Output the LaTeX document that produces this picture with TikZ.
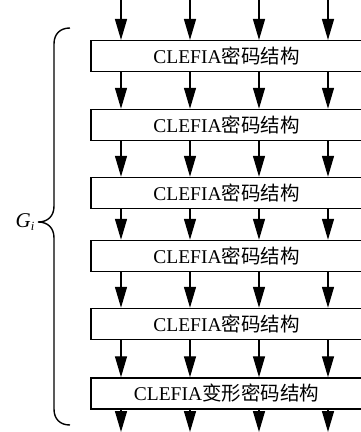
\documentclass[tikz,border=0pt]{standalone}
\usepackage{fontspec}
\setmainfont{Liberation Serif}
\newfontfamily\cjk{Noto Sans CJK SC}
\usetikzlibrary{arrows.meta}
\begin{document}
\begin{tikzpicture}[x=1pt,y=-1pt,
  blockbox/.style={draw,line width=1.5pt,minimum width=271pt,minimum height=31pt,inner sep=0pt,
    font=\fontsize{19.5pt}{23pt}\selectfont},
  flow/.style={line width=1.4pt,-{Triangle[length=21pt,width=12pt]}},
  bracestyle/.style={line width=1.4pt}]
\useasboundingbox (0,0) rectangle (361,432);
\node[blockbox] (b1) at (226.5,56.2) {CLEFIA{\cjk 密码结构}};
\node[blockbox] (b2) at (226.5,125) {CLEFIA{\cjk 密码结构}};
\node[blockbox] (b3) at (226.5,193) {CLEFIA{\cjk 密码结构}};
\node[blockbox] (b4) at (226.5,256) {CLEFIA{\cjk 密码结构}};
\node[blockbox] (b5) at (226.5,324) {CLEFIA{\cjk 密码结构}};
\node[blockbox] (b6) at (226.5,393.5) {CLEFIA{\cjk 变形密码结构}};
\foreach \i/\x in {1/121,2/190,3/259,4/328}{
  \coordinate (t\i) at (\x,0);
  \coordinate (e\i) at (\x,432);
  \draw[flow] (t\i) -- (t\i |- b1.north);
  \draw[flow] (b1.south -| t\i) -- (b2.north -| t\i);
  \draw[flow] (b2.south -| t\i) -- (b3.north -| t\i);
  \draw[flow] (b3.south -| t\i) -- (b4.north -| t\i);
  \draw[flow] (b4.south -| t\i) -- (b5.north -| t\i);
  \draw[flow] (b5.south -| t\i) -- (b6.north -| t\i);
  \draw[flow] (b6.south -| t\i) -- (e\i);
}
\coordinate (brtop) at (70,28);
\coordinate (brtip) at (38,222);
\coordinate (brbot) at (70,425);
\draw[bracestyle] (brtop) .. controls (60,28) and (54,34) .. (54,44)
  -- (54,206) .. controls (54,216) and (48,222) .. (brtip)
  .. controls (48,222) and (54,228) .. (54,238)
  -- (54,409) .. controls (54,419) and (60,425) .. (brbot);
\node[font=\fontsize{21pt}{25pt}\selectfont,inner sep=0pt] (g) at (25,222) {\textit{G}\raisebox{-0.35ex}{\fontsize{12.5pt}{15pt}\selectfont\textit{i}}};
\end{tikzpicture}
\end{document}
